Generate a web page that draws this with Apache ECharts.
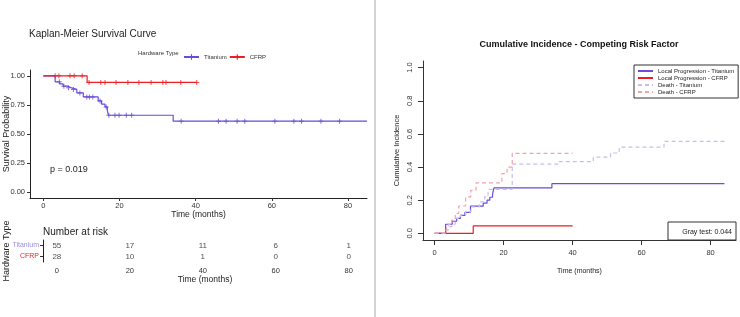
<!DOCTYPE html>
<html>
<head>
<meta charset="utf-8">
<script src="https://cdn.jsdelivr.net/npm/echarts@6.0.0/dist/echarts.min.js"></script>
<style>
  html, body { margin: 0; padding: 0; background: #fff; }
  #main { width: 740px; height: 317px; }
</style>
</head>
<body>
<div id="main"></div>
<script>
// ---- Kaplan-Meier (left panel)
var kmTicks = [0, 20, 40, 60, 80];
var kmYTicks = [0, 0.25, 0.5, 0.75, 1];
var kmTiTime = [0, 3.1, 4.3, 5.2, 6.3, 7.4, 8.8, 10.5, 14.4, 15.3, 16.2, 16.8, 17.1, 34.1, 85];
var kmTiSurv = [1, 0.948, 0.93, 0.911, 0.897, 0.883, 0.853, 0.819, 0.784, 0.756, 0.733, 0.704, 0.661, 0.61, 0.61];
var kmTiCensor = [4.2, 5.4, 6.6, 7.9, 9.6, 11.4, 12.1, 13.0, 14.9, 16.5, 17.2, 18.8, 19.9, 21.8, 23.2,
                  36.2, 46, 48, 50.9, 52.9, 60.8, 65.8, 67.8, 72.9, 77.8];
var kmCfTime = [0, 11.5, 40.3];
var kmCfSurv = [1, 0.943, 0.943];
var kmCfCensor = [3.1, 4.1, 7.0, 8.1, 10.2, 12.0, 15.1, 16.2, 19.1, 22.2, 25.1, 28.3, 31.4, 32.2, 36.1, 40.3];

// number at risk table
var riskTimes = [0, 20, 40, 60, 80];
var riskTi = [55, 17, 11, 6, 1];
var riskCf = [28, 10, 1, 0, 0];
var riskRows = ['CFRP', 'Titanium'];

// ---- Cumulative incidence (right panel)
var cifTicks = [0, 20, 40, 60, 80];
var cifYTicks = [0, 0.2, 0.4, 0.6, 0.8, 1.0];
var lpTiTime = [0, 3.2, 5.1, 6.4, 7.5, 8.8, 10.4, 14.1, 15.2, 16, 16.8, 17.2, 34, 84];
var lpTiVal  = [0, 0.055, 0.073, 0.091, 0.109, 0.127, 0.164, 0.182, 0.2, 0.218, 0.236, 0.275, 0.3, 0.3];
var lpCfTime = [0, 11.2, 40];
var lpCfVal  = [0, 0.045, 0.045];
var deTiTime = [0, 3.2, 4, 6, 7.5, 9, 10.5, 13, 14.5, 15.5, 22.5, 36, 46, 51, 53.5, 66.5, 84];
var deTiVal  = [0, 0.02, 0.055, 0.09, 0.11, 0.13, 0.16, 0.19, 0.22, 0.265, 0.418, 0.433, 0.46, 0.485, 0.52, 0.555, 0.555];
var deCfTime = [0, 3.5, 5, 6, 7, 9, 10.5, 12, 19.5, 21, 22.5, 40];
var deCfVal  = [0, 0.04, 0.08, 0.12, 0.165, 0.22, 0.26, 0.305, 0.36, 0.4, 0.483, 0.483];

var TI = '#6a4bdc';
var CF = '#ee1d23';
var FONT = 'Liberation Sans, Arial, sans-serif';
var PLUS = 'path://M4,0H6V4H10V6H6V10H4V6H0V4H4Z';

function pairs(xs, ys) {
  return xs.map(function (x, i) { return [x, ys[i]]; });
}

// survival value of a step curve at time t
function stepAt(times, vals, t) {
  var v = vals[0];
  for (var i = 0; i < times.length; i++) {
    if (times[i] <= t) v = vals[i];
  }
  return v;
}

function censorPts(cens, times, vals) {
  return cens.map(function (t) { return [t, stepAt(times, vals, t)]; });
}

function riskPts(row, counts) {
  return riskTimes.map(function (t, i) { return [t, row, counts[i]]; });
}

var axisTxt = { color: '#333', fontSize: 7.5, fontFamily: FONT };

var option = {
  animation: false,
  backgroundColor: '#fff',
  textStyle: { fontFamily: FONT },
  grid: [
    { left: 30, top: 70, width: 337, height: 128, outerBoundsMode: 'none' },
    { left: 43, top: 240, width: 324, height: 22, outerBoundsMode: 'none' },
    { left: 423, top: 61, width: 313, height: 179, outerBoundsMode: 'none' }
  ],
  xAxis: [
    {
      gridIndex: 0, type: 'value', min: -3.5, max: 85,
      name: 'Time (months)', nameLocation: 'middle', nameGap: 12, nameMoveOverlap: false,
      nameTextStyle: { color: '#222', fontSize: 8.5, fontFamily: FONT },
      axisLine: { onZero: false, lineStyle: { color: '#222', width: 1 } },
      axisTick: { customValues: kmTicks, length: 3, lineStyle: { color: '#333' } },
      axisLabel: Object.assign({ customValues: kmTicks, margin: 4 }, axisTxt),
      splitLine: { show: false }
    },
    {
      gridIndex: 1, type: 'value', min: -3.8, max: 85,
      name: 'Time (months)', nameLocation: 'middle', nameGap: 13, nameMoveOverlap: false,
      nameTextStyle: { color: '#222', fontSize: 8.5, fontFamily: FONT },
      axisLine: { onZero: false, lineStyle: { color: '#222', width: 1 } },
      axisTick: { customValues: riskTimes, length: 3, lineStyle: { color: '#333' } },
      axisLabel: Object.assign({ customValues: riskTimes, margin: 5 }, axisTxt),
      splitLine: { show: false }
    },
    {
      gridIndex: 2, type: 'value', min: -3.36, max: 87.36,
      name: 'Time (months)', nameLocation: 'middle', nameGap: 28, nameMoveOverlap: false,
      nameTextStyle: { color: '#222', fontSize: 7, fontFamily: FONT },
      axisLine: { onZero: false, lineStyle: { color: '#333', width: 1 } },
      axisTick: { customValues: cifTicks, length: 5, lineStyle: { color: '#333' } },
      axisLabel: Object.assign({ customValues: cifTicks, margin: 9 }, axisTxt),
      splitLine: { show: false }
    }
  ],
  yAxis: [
    {
      gridIndex: 0, type: 'value', min: -0.05, max: 1.05,
      name: 'Survival Probability', nameLocation: 'middle', nameGap: 19, nameMoveOverlap: false,
      nameTextStyle: { color: '#222', fontSize: 9, fontFamily: FONT },
      axisLine: { show: true, onZero: false, lineStyle: { color: '#222', width: 1 } },
      axisTick: { show: true, customValues: kmYTicks, length: 3, lineStyle: { color: '#333' } },
      axisLabel: Object.assign({
        customValues: kmYTicks, margin: 5,
        formatter: function (v) { return v.toFixed(2); }
      }, axisTxt),
      splitLine: { show: false }
    },
    {
      gridIndex: 1, type: 'category', data: riskRows,
      name: 'Hardware Type', nameLocation: 'middle', nameGap: 32, nameMoveOverlap: false,
      nameTextStyle: { color: '#222', fontSize: 9, fontFamily: FONT },
      axisLine: { show: true, onZero: false, lineStyle: { color: '#222', width: 1 } },
      axisTick: { show: true, alignWithLabel: true, length: 3, lineStyle: { color: '#333' } },
      axisLabel: {
        fontSize: 7, fontFamily: FONT, margin: 4,
        color: function (v) { return v === 'CFRP' ? CF : '#9b8be6'; }
      },
      splitLine: { show: false }
    },
    {
      gridIndex: 2, type: 'value', min: -0.04, max: 1.04,
      name: 'Cumulative Incidence', nameLocation: 'middle', nameGap: 22, nameMoveOverlap: false,
      nameTextStyle: { color: '#222', fontSize: 7.5, fontFamily: FONT },
      axisLine: { show: true, onZero: false, lineStyle: { color: '#333', width: 1 } },
      axisTick: { show: true, customValues: cifYTicks, length: 5, lineStyle: { color: '#333' } },
      axisLabel: Object.assign({
        customValues: cifYTicks, margin: 9, rotate: 90,
        formatter: function (v) { return v.toFixed(1); }
      }, axisTxt),
      splitLine: { show: false }
    }
  ],
  legend: [
    {
      left: 178, top: 49, itemWidth: 15, itemHeight: 7, itemGap: 2,
      data: ['Titanium', 'CFRP'],
      textStyle: { fontSize: 6, color: '#333', fontFamily: FONT },
      selectedMode: false
    },
    {
      left: 634, top: 65, orient: 'vertical',
      itemWidth: 15, itemHeight: 6, itemGap: 1,
      padding: [3, 4, 3, 3],
      borderColor: '#333', borderWidth: 1, backgroundColor: '#fff',
      itemStyle: { opacity: 0 },
      data: ['Local Progression - Titanium', 'Local Progression - CFRP', 'Death - Titanium', 'Death - CFRP'],
      textStyle: { fontSize: 6, color: '#222', fontFamily: FONT, lineHeight: 6 },
      selectedMode: false
    }
  ],
  series: [
    {
      name: 'Titanium', type: 'line', step: 'end', xAxisIndex: 0, yAxisIndex: 0,
      data: pairs(kmTiTime, kmTiSurv), symbol: PLUS, showSymbol: false,
      color: TI, lineStyle: { width: 1.2, color: TI }
    },
    {
      name: 'CFRP', type: 'line', step: 'end', xAxisIndex: 0, yAxisIndex: 0,
      data: pairs(kmCfTime, kmCfSurv), symbol: PLUS, showSymbol: false,
      color: CF, lineStyle: { width: 1.2, color: CF }
    },
    {
      name: 'ti-censor', type: 'scatter', xAxisIndex: 0, yAxisIndex: 0,
      data: censorPts(kmTiCensor, kmTiTime, kmTiSurv), symbol: PLUS, symbolSize: 5,
      itemStyle: { color: TI }
    },
    {
      name: 'cf-censor', type: 'scatter', xAxisIndex: 0, yAxisIndex: 0,
      data: censorPts(kmCfCensor, kmCfTime, kmCfSurv), symbol: PLUS, symbolSize: 5,
      itemStyle: { color: CF }
    },
    {
      name: 'risk-ti', type: 'scatter', xAxisIndex: 1, yAxisIndex: 1,
      data: riskPts('Titanium', riskTi), symbolSize: 1, itemStyle: { color: 'transparent' },
      label: { show: true, position: 'inside', fontSize: 8, color: '#222', fontFamily: FONT,
               formatter: function (p) { return p.value[2]; } }
    },
    {
      name: 'risk-cf', type: 'scatter', xAxisIndex: 1, yAxisIndex: 1,
      data: riskPts('CFRP', riskCf), symbolSize: 1, itemStyle: { color: 'transparent' },
      label: { show: true, position: 'inside', fontSize: 8, color: '#222', fontFamily: FONT,
               formatter: function (p) { return p.value[2]; } }
    },
    {
      name: 'Local Progression - Titanium', type: 'line', step: 'end', xAxisIndex: 2, yAxisIndex: 2,
      data: pairs(lpTiTime, lpTiVal), symbol: 'none', color: TI,
      lineStyle: { width: 1.2, color: TI }
    },
    {
      name: 'Local Progression - CFRP', type: 'line', step: 'end', xAxisIndex: 2, yAxisIndex: 2,
      data: pairs(lpCfTime, lpCfVal), symbol: 'none', color: CF,
      lineStyle: { width: 1.2, color: CF }
    },
    {
      name: 'Death - Titanium', type: 'line', step: 'end', xAxisIndex: 2, yAxisIndex: 2,
      data: pairs(deTiTime, deTiVal), symbol: 'none', color: '#c4bff2',
      lineStyle: { width: 1.2, color: '#c4bff2', type: [4, 3] }
    },
    {
      name: 'Death - CFRP', type: 'line', step: 'end', xAxisIndex: 2, yAxisIndex: 2,
      data: pairs(deCfTime, deCfVal), symbol: 'none', color: '#f4a2aa',
      lineStyle: { width: 1.2, color: '#f4a2aa', type: [4, 3] }
    }
  ],
  graphic: [
    { type: 'line', shape: { x1: 375, y1: 0, x2: 375, y2: 317 }, style: { stroke: '#c4c4c4', lineWidth: 1.5 } },
    { type: 'text', x: 29, y: 34, style: { text: 'Kaplan-Meier Survival Curve', fontSize: 10, fill: '#222',
      fontFamily: FONT, textVerticalAlign: 'middle' } },
    { type: 'text', x: 138, y: 53, style: { text: 'Hardware Type', fontSize: 6, fill: '#333',
      fontFamily: FONT, textVerticalAlign: 'middle' } },
    { type: 'text', x: 50, y: 170, style: { text: 'p = 0.019', fontSize: 9, fill: '#222',
      fontFamily: FONT, textVerticalAlign: 'middle' } },
    { type: 'text', x: 43, y: 232, style: { text: 'Number at risk', fontSize: 10, fill: '#222',
      fontFamily: FONT, textVerticalAlign: 'middle' } },
    { type: 'text', x: 579, y: 45, style: { text: 'Cumulative Incidence - Competing Risk Factor', fontSize: 9,
      fontWeight: 'bold', fill: '#111', fontFamily: FONT, textAlign: 'center', textVerticalAlign: 'middle' } },
    { type: 'rect', shape: { x: 668, y: 222, width: 68, height: 18 }, style: { fill: '#fff', stroke: '#333', lineWidth: 1 }, z: 10 },
    { type: 'text', x: 732, y: 232, z: 11, style: { text: 'Gray test: 0.044', fontSize: 7, fill: '#222',
      fontFamily: FONT, textAlign: 'right', textVerticalAlign: 'middle' } }
  ]
};

var myChart = echarts.init(document.getElementById('main'));
myChart.setOption(option);
</script>
</body>
</html>
